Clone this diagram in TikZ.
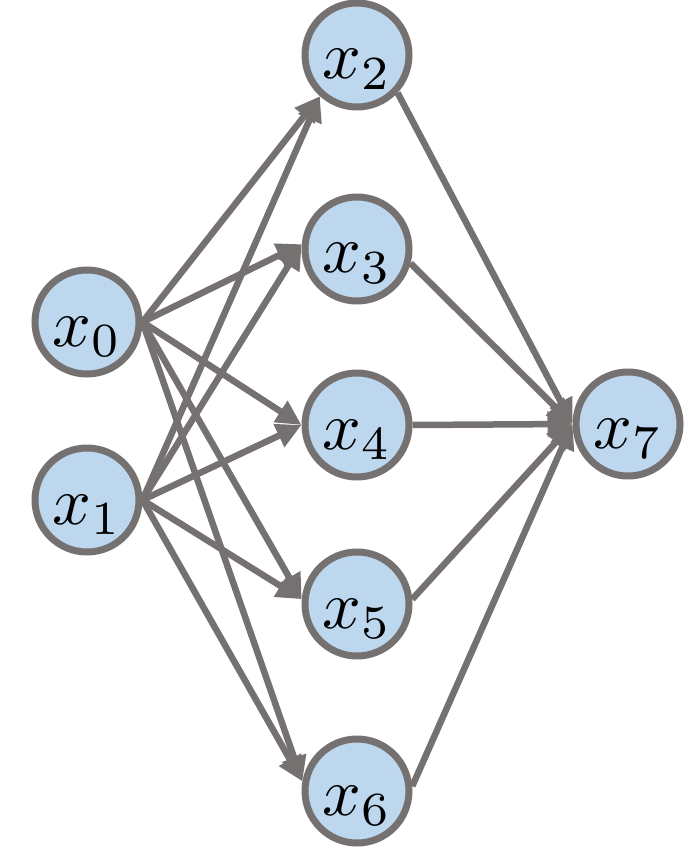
\documentclass[tikz,border=0pt]{standalone}
\usetikzlibrary{arrows.meta}
\definecolor{edgegray}{RGB}{118,113,113}
\definecolor{nodeblue}{RGB}{189,215,238}
\newcommand{\biglab}[1]{\raisebox{-24pt}{\scalebox{6.8}{$#1$}}}
\begin{document}
\begin{tikzpicture}[x=1pt,y=-1pt,
  neuron/.style={circle,draw=edgegray,fill=nodeblue,line width=7pt,minimum size=104pt,inner sep=0pt,text height=0pt,text depth=0pt},
  conn/.style={draw=edgegray,line width=6.5pt,-{Triangle[length=25pt,width=24pt]}}]
\useasboundingbox (0,0) rectangle (685,864);
\node[neuron] (x0) at (87,322) {\biglab{x_0}};
\node[neuron] (x1) at (87,500) {\biglab{x_1}};
\node[neuron] (x2) at (357,55) {\biglab{x_2}};
\node[neuron] (x3) at (357,249) {\biglab{x_3}};
\node[neuron] (x4) at (357,425) {\biglab{x_4}};
\node[neuron] (x5) at (357,604) {\biglab{x_5}};
\node[neuron] (x6) at (357,791) {\biglab{x_6}};
\node[neuron] (x7) at (628,424) {\biglab{x_7}};
\foreach \s in {x0,x1}{
  \draw[conn] (\s.east) -- (x2.228);
  \draw[conn] (\s.east) -- (x3.175);
  \draw[conn] (\s.east) -- (x4.west);
  \draw[conn] (\s.east) -- (x5.175);
  \draw[conn] (\s.east) -- (x6.170);
}
\draw[conn] (x2.317) -- (x7.west);
\draw[conn] (x3.-15) -- (x7.west);
\draw[conn] (x4.east) -- (x7.west);
\draw[conn] (x5.5) -- (x7.west);
\draw[conn] (x6.5) -- (x7.west);
\end{tikzpicture}
\end{document}
